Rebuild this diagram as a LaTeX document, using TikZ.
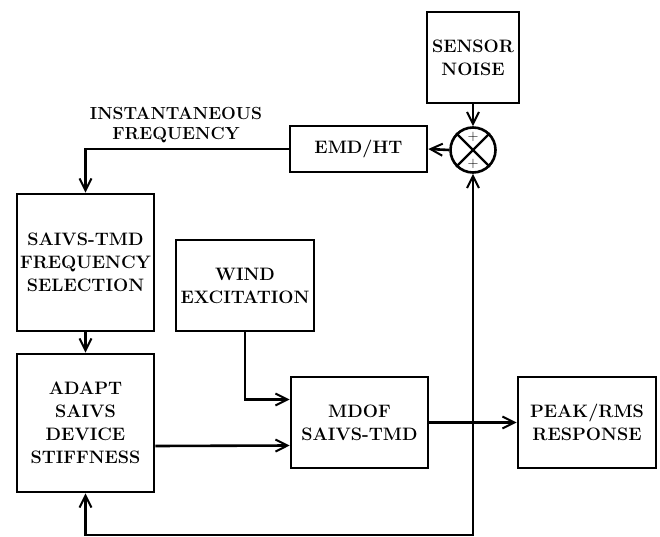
\documentclass[tikz,border=0pt]{standalone}
\usetikzlibrary{arrows.meta}
\begin{document}
\begin{tikzpicture}[x=1pt,y=-1pt,
  box/.style={draw,line width=2.6pt,inner sep=0pt,align=center,
    font=\fontsize{18}{23}\selectfont\bfseries},
  conn/.style={line width=2.6pt},
  arr/.style={conn,-{Straight Barb[length=12pt,width=12pt,line width=2pt]}},
  lbl/.style={align=center,font=\fontsize{17.5}{20}\selectfont\bfseries},
  sumc/.style={draw,circle,line width=2.6pt,minimum size=45pt,inner sep=0pt}]
\useasboundingbox (0,0) rectangle (660,537);
\node[box,minimum width=92pt,minimum height=91pt] (sensor) at (473,57.5) {SENSOR\\NOISE};
\node[sumc] (sum) at (473,150) {};
\draw[line width=2.2pt] (sum.north west) -- (sum.south east) (sum.north east) -- (sum.south west);
\node[font=\fontsize{15}{15}\selectfont,inner sep=0pt] (pt) at (473,137) {$+$};
\node[font=\fontsize{15}{15}\selectfont,inner sep=0pt] (pb) at (473,164) {$+$};
\node[box,minimum width=137pt,minimum height=46pt] (emd) at (358.5,149) {EMD/HT};
\node[box,minimum width=137pt,minimum height=137pt] (sel) at (85.5,262.5) {SAIVS-TMD\\FREQUENCY\\SELECTION};
\node[box,minimum width=138pt,minimum height=91pt] (wind) at (245,285.5) {WIND\\EXCITATION};
\node[box,minimum width=137pt,minimum height=138pt] (adapt) at (85.5,423) {ADAPT\\SAIVS\\DEVICE\\STIFFNESS};
\node[box,minimum width=137pt,minimum height=91pt] (mdof) at (359.5,422.5) {MDOF\\SAIVS-TMD};
\node[box,minimum width=138pt,minimum height=91pt] (peak) at (587,422.5) {PEAK/RMS\\RESPONSE};
\node[lbl] (ifl) at (176,125) {INSTANTANEOUS\\FREQUENCY};
\coordinate (jn) at (473,422.5);
\coordinate (bl) at (473,535);
\coordinate (br) at (85.5,535);
\draw[arr] (sensor.south) -- (sum.north);
\draw[arr] (sum.west) -- (emd.east);
\draw[arr] (emd.west) -| (sel.north);
\draw[arr] (sel.south) -- (adapt.north);
\draw[arr] (wind.south) |- ([yshift=23pt]mdof.west);
\draw[arr] ([yshift=-23pt]adapt.east) -- ([yshift=-23pt]mdof.west);
\draw[arr] (mdof.east) -- (peak.west);
\draw[arr] (jn) -- (sum.south);
\draw[arr] (jn) -- (bl) -- (br) -- (adapt.south);
\end{tikzpicture}
\end{document}
